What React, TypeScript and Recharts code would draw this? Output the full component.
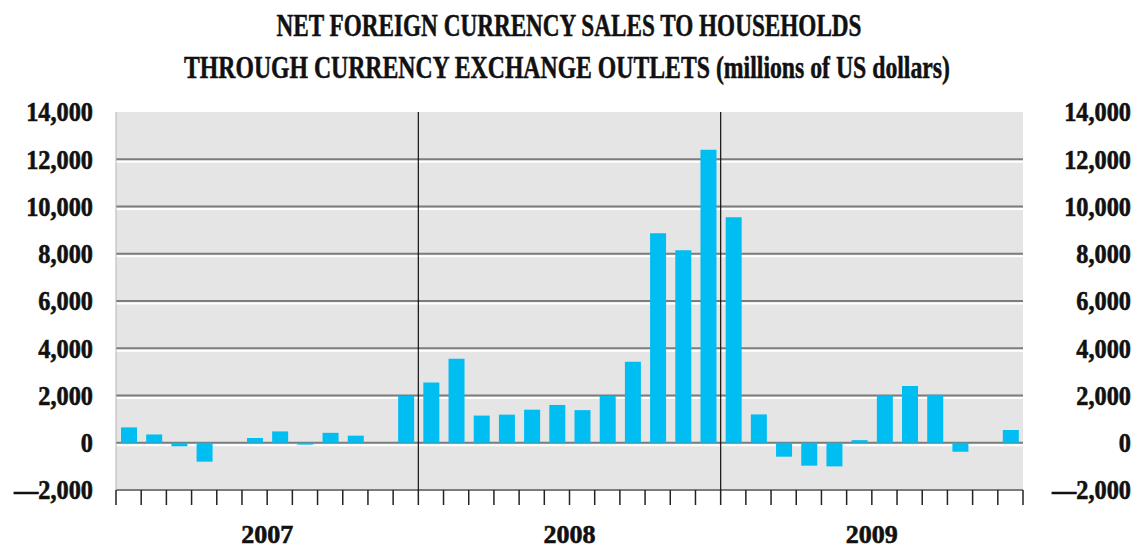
import { ComposedChart, Bar, Line, XAxis, YAxis, CartesianGrid, ReferenceLine } from 'recharts';

const years = ['2007', '2008', '2009'];
const monthNames = ['Jan', 'Feb', 'Mar', 'Apr', 'May', 'Jun', 'Jul', 'Aug', 'Sep', 'Oct', 'Nov', 'Dec'];

// net sales, millions of US dollars, one value per month
const sales2007 = [650, 350, -150, -800, 0, 200, 480, -80, 420, 300, 0, 1980];
const sales2008 = [2550, 3560, 1150, 1190, 1400, 1600, 1380, 1980, 3430, 8870, 8150, 12400];
const sales2009 = [9550, 1200, -590, -970, -1000, 110, 2000, 2400, 2030, -380, 0, 540];

const yTicks = [-2000, 0, 2000, 4000, 6000, 8000, 10000, 12000, 14000];
const yearSeparators = [12, 24];

const W = 1134;
const H = 548;
const LEFT_W = 116;
const RIGHT_W = 111;
const TOP = 112;
const BOTTOM_H = 58;
const PLOT_BOTTOM = H - BOTTOM_H;

const data = [sales2007, sales2008, sales2009].flatMap((vals, yi) =>
	vals.map((v, mi) => ({ month: `${monthNames[mi]} ${years[yi]}`, pos: yi * 12 + mi + 0.5, value: v }))
);
const monthBoundaries = Array.from({ length: data.length + 1 }, (_, i) => i);

const font = '"Liberation Serif", "DejaVu Serif", serif';

const fmt = (v: number) => (v < 0 ? '\u2014' : '') + Math.abs(v).toLocaleString('en-US');

const YTick = ({ anchorX, y, payload }) => (
	<text
		transform={`translate(${anchorX},${y}) scale(0.9,1)`}
		textAnchor="end"
		dy="0.35em"
		fontFamily={font}
		fontWeight="bold"
		fontSize={27}
		fill="#111"
		stroke="#111"
		strokeWidth={0.6}
	>
		{fmt(payload.value)}
	</text>
);

const MonthTick = ({ x, payload }) => {
	const v = payload.value;
	const yearIdx = v % 12 === 6 ? (v - 6) / 12 : -1;
	return (
		<g>
			<line x1={x} x2={x} y1={PLOT_BOTTOM} y2={PLOT_BOTTOM + 15} stroke="#222" strokeWidth={1.5} />
			{yearIdx >= 0 && (
				<text
					x={x}
					y={543}
					textAnchor="middle"
					fontFamily={font}
					fontWeight="bold"
					fontSize={26}
					fill="#111"
					stroke="#111"
					strokeWidth={0.6}
				>
					{years[yearIdx]}
				</text>
			)}
		</g>
	);
};

const GridLine = (props) => {
	const { x1, x2, y1 } = props;
	if (Math.abs(y1 - TOP) < 1) return <g />;
	return (
		<g>
			<line x1={x1} x2={x2} y1={y1} y2={y1} stroke="#7c7c7c" strokeWidth={2} />
			<line x1={x1} x2={x2} y1={y1 + 2.5} y2={y1 + 2.5} stroke="#ffffff" strokeWidth={2} />
		</g>
	);
};

const Title = () => (
	<svg width={W} height={100} style={{ position: 'absolute', left: 0, top: 0 }}>
		<text x={569} y={36} textAnchor="middle" fontFamily={font} fontWeight="bold" fontSize={31}
			textLength={585} lengthAdjust="spacingAndGlyphs" fill="#111" stroke="#111" strokeWidth={0.5}>
			NET FOREIGN CURRENCY SALES TO HOUSEHOLDS
		</text>
		<text x={567} y={78} textAnchor="middle" fontFamily={font} fontWeight="bold" fontSize={31}
			textLength={766} lengthAdjust="spacingAndGlyphs" fill="#111" stroke="#111" strokeWidth={0.5}>
			THROUGH CURRENCY EXCHANGE OUTLETS (millions of US dollars)
		</text>
	</svg>
);

export default function App() {
	return (
		<div style={{ position: 'relative', width: W, height: H, background: '#fff' }}>
			<style>{'body{margin:0}'}</style>
			<Title />
			<ComposedChart
				width={W}
				height={H}
				data={data}
				margin={{ top: TOP, right: 0, bottom: 0, left: 0 }}
				style={{ position: 'absolute', left: 0, top: 0 }}
			>
				<CartesianGrid
					xAxisId="grid"
					yAxisId="left"
					vertical={false}
					horizontal={GridLine}
					fill="#e5e5e5"
					fillOpacity={1}
				/>
				<XAxis xAxisId="cat" dataKey="month" hide />
				<XAxis
					xAxisId="grid"
					type="number"
					dataKey="pos"
					domain={[0, data.length]}
					allowDataOverflow
					ticks={monthBoundaries}
					interval={0}
					axisLine={false}
					tickLine={false}
					height={BOTTOM_H}
					tick={MonthTick}
				/>
				<YAxis
					yAxisId="left"
					domain={[-2000, 14000]}
					ticks={yTicks}
					interval={0}
					width={LEFT_W}
					axisLine={false}
					tickLine={false}
					tick={(p) => <YTick {...p} anchorX={LEFT_W - 23} />}
				/>
				<YAxis
					yAxisId="right"
					orientation="right"
					domain={[-2000, 14000]}
					ticks={yTicks}
					interval={0}
					width={RIGHT_W}
					axisLine={false}
					tickLine={false}
					tick={(p) => <YTick {...p} anchorX={W - 3} />}
				/>
				<ReferenceLine xAxisId="grid" yAxisId="left" x={0} stroke="#b5b5b5" strokeWidth={1} />
				{yearSeparators.map((m) => (
					<ReferenceLine key={m} xAxisId="grid" yAxisId="left" x={m} stroke="#111" strokeWidth={1.2} />
				))}
				<Bar
					xAxisId="cat"
					yAxisId="left"
					dataKey="value"
					fill="#00bdf2"
					barSize={16}
					isAnimationActive={false}
				/>
				{/* mirror axis on the right, no visible marks */}
				<Line
					xAxisId="cat"
					yAxisId="right"
					dataKey="value"
					stroke="none"
					dot={false}
					activeDot={false}
					legendType="none"
					isAnimationActive={false}
				/>
			</ComposedChart>
		</div>
	);
}
